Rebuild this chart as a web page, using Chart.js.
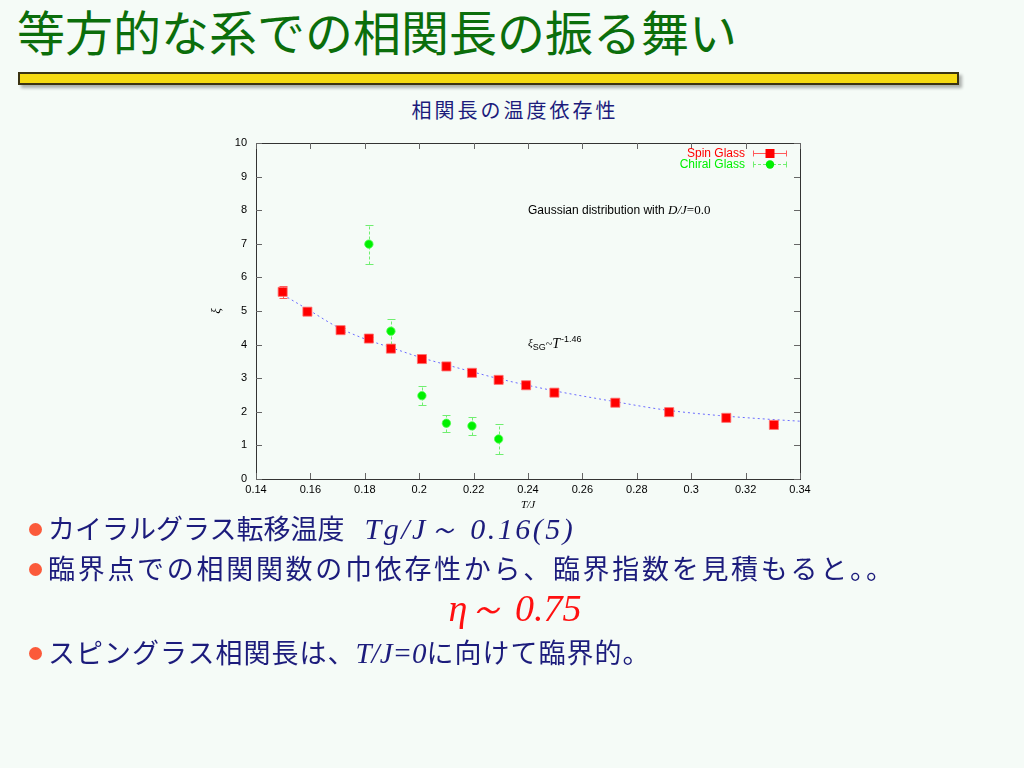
<!DOCTYPE html>
<html><head><meta charset="utf-8">
<script src="https://cdn.jsdelivr.net/npm/chart.js@4/dist/chart.umd.min.js"></script>
<style>
html,body{margin:0;padding:0;}
body{width:1024px;height:768px;background:#f5fbf7;position:relative;overflow:hidden;font-family:"Noto Sans CJK JP",sans-serif;}
#title{position:absolute;left:17px;top:2px;font-size:48px;line-height:56px;color:#0b6e0b;white-space:nowrap;}
#bar{position:absolute;left:18px;top:72px;width:937px;height:9px;background:#f6da12;border:2px solid #3b3312;box-shadow:3px 3px 3px rgba(0,0,0,0.3);}
#ctitle{position:absolute;left:315px;width:400px;text-align:center;top:96px;font-size:20px;line-height:28px;letter-spacing:3px;color:#1c1c7c;}
.b{position:absolute;left:29px;font-size:27px;color:#1c1c7c;white-space:nowrap;letter-spacing:0;line-height:34px}
.dot{display:inline-block;width:13px;height:13px;border-radius:50%;background:#fb5a3a;margin-right:6px;vertical-align:middle;position:relative;top:-2px}
.m{font-family:"Liberation Serif",serif;font-style:italic;font-size:29px;letter-spacing:0}
.m1{font-family:"Liberation Serif",serif;font-style:italic;font-size:30px;letter-spacing:2.5px;margin-left:20px}
#eta{position:absolute;left:315px;width:400px;text-align:center;top:587px;font-family:"Liberation Serif",serif;font-style:italic;font-size:38px;line-height:42px;color:#ff1010}
canvas{position:absolute;left:0;top:0}
</style>
</head>
<body>
<div id="title">等方的な系での相関長の振る舞い</div>
<div id="bar"></div>
<div id="ctitle">相関長の温度依存性</div>
<canvas id="c" width="1024" height="768"></canvas>
<div class="b" style="top:511px"><span class="dot"></span>カイラルグラス転移温度<span class="m1">Tg/J～ 0.16(5)</span></div>
<div class="b" style="top:551px;letter-spacing:2.7px"><span class="dot"></span>臨界点での相関関数の巾依存性から、臨界指数を見積もると。。</div>
<div id="eta">η～ 0.75</div>
<div class="b" style="top:635px;letter-spacing:1px"><span class="dot"></span>スピングラス相関長は、<span class="m">T/J=0</span>に向けて臨界的。</div>
<script>
const xTicks = [0.14, 0.16, 0.18, 0.20, 0.22, 0.24, 0.26, 0.28, 0.30, 0.32, 0.34];
const xTickLabels = ['0.14', '0.16', '0.18', '0.2', '0.22', '0.24', '0.26', '0.28', '0.3', '0.32', '0.34'];
const yTicks = [0, 1, 2, 3, 4, 5, 6, 7, 8, 9, 10];
const yTickLabels = ['0', '1', '2', '3', '4', '5', '6', '7', '8', '9', '10'];
const seriesNames = ['Spin Glass', 'Chiral Glass'];

const spinT   = [0.1498, 0.1589, 0.1711, 0.1815, 0.1896, 0.2010, 0.2100, 0.2194, 0.2292, 0.2393, 0.2497, 0.2721, 0.2919, 0.3129, 0.3304];
const spinXi  = [5.57, 4.98, 4.43, 4.18, 3.88, 3.57, 3.35, 3.16, 2.95, 2.79, 2.57, 2.27, 1.99, 1.82, 1.61];
const spinErr = [0.17, 0.07, 0.06, 0.06, 0.06, 0.05, 0.05, 0.05, 0.05, 0.04, 0.04, 0.04, 0.04, 0.04, 0.04];

const chiralT   = [0.1815, 0.1896, 0.2010, 0.2100, 0.2194, 0.2292];
const chiralXi  = [6.99, 4.40, 2.48, 1.66, 1.58, 1.19];
const chiralErr = [0.58, 0.37, 0.29, 0.25, 0.28, 0.45];

const fitT  = [0.15, 0.16, 0.17, 0.18, 0.19, 0.20, 0.21, 0.22, 0.23, 0.25, 0.27, 0.29, 0.31, 0.33, 0.34];
const fitXi = [5.48, 5.00, 4.52, 4.17, 3.90, 3.63, 3.40, 3.18, 2.97, 2.62, 2.33, 2.06, 1.89, 1.77, 1.72];

const noteGauss = {t: 0.24, xi: 8};
const noteFit = {t: 0.24, xi: 4};

const spinColor = '#ff0000';
const chiralColor = '#00f000';

function pts(T, V) { return T.map((t, i) => ({x: t, y: V[i]})); }

const frameAndBars = {
  id: 'frameAndBars',
  beforeDatasetsDraw(chart) {
    const {ctx, chartArea: a, scales: {x, y}} = chart;
    ctx.save();
    ctx.strokeStyle = '#333';
    ctx.lineWidth = 1;
    ctx.strokeRect(Math.round(a.left) + 0.5, Math.round(a.top) + 0.5, Math.round(a.right - a.left), Math.round(a.bottom - a.top));
    ctx.strokeStyle = '#666';
    ctx.beginPath();
    xTicks.forEach(v => {
      const px = Math.round(x.getPixelForValue(v)) + 0.5;
      ctx.moveTo(px, a.bottom); ctx.lineTo(px, a.bottom - 6);
      ctx.moveTo(px, a.top); ctx.lineTo(px, a.top + 6);
    });
    yTicks.forEach(v => {
      const py = Math.round(y.getPixelForValue(v)) + 0.5;
      ctx.moveTo(a.left, py); ctx.lineTo(a.left + 6, py);
      ctx.moveTo(a.right, py); ctx.lineTo(a.right - 6, py);
    });
    ctx.stroke();
    const draw = (T, V, E, color, dash) => {
      ctx.strokeStyle = color;
      T.forEach((t, i) => {
        const px = Math.round(x.getPixelForValue(t)) + 0.5;
        const y1 = Math.round(y.getPixelForValue(V[i] - E[i])) + 0.5;
        const y2 = Math.round(y.getPixelForValue(V[i] + E[i])) + 0.5;
        ctx.setLineDash(dash);
        ctx.beginPath(); ctx.moveTo(px, y1); ctx.lineTo(px, y2); ctx.stroke();
        ctx.setLineDash([]);
        ctx.beginPath();
        ctx.moveTo(px - 4, y1); ctx.lineTo(px + 4, y1);
        ctx.moveTo(px - 4, y2); ctx.lineTo(px + 4, y2);
        ctx.stroke();
      });
    };
    draw(spinT, spinXi, spinErr, '#ff5a5a', []);
    draw(chiralT, chiralXi, chiralErr, '#70ee70', [3, 2]);
    ctx.restore();
  },
  afterDatasetsDraw(chart) {
    const {ctx, chartArea: a, scales: {x, y}} = chart;
    ctx.save();
    ctx.textBaseline = 'middle';
    ctx.font = '12px "Liberation Sans", Arial, sans-serif';
    const rows = [
      {name: seriesNames[0], color: spinColor, bar: '#ff5a5a', dash: [], style: 'rect'},
      {name: seriesNames[1], color: chiralColor, bar: '#70ee70', dash: [3, 2], style: 'circle'}
    ];
    rows.forEach((r, i) => {
      const yy = Math.round(a.top + 10 + i * 11) + 0.5;
      ctx.fillStyle = r.color;
      ctx.textAlign = 'right';
      ctx.fillText(r.name, a.right - 55, yy);
      const x1 = a.right - 47, x2 = a.right - 13, xm = a.right - 30;
      ctx.strokeStyle = r.bar; ctx.lineWidth = 1;
      ctx.setLineDash(r.dash);
      ctx.beginPath(); ctx.moveTo(x1, yy); ctx.lineTo(x2, yy); ctx.stroke();
      ctx.setLineDash([]);
      ctx.beginPath(); ctx.moveTo(x1 + 0.5, yy - 3); ctx.lineTo(x1 + 0.5, yy + 3);
      ctx.moveTo(x2 - 0.5, yy - 3); ctx.lineTo(x2 - 0.5, yy + 3); ctx.stroke();
      ctx.fillStyle = r.color;
      ctx.beginPath();
      if (r.style === 'rect') ctx.rect(xm - 4.5, yy - 4.5, 9, 9);
      else ctx.arc(xm, yy, 4.2, 0, Math.PI * 2);
      ctx.fill();
    });
    ctx.fillStyle = '#000';
    ctx.textAlign = 'left';
    let gx = x.getPixelForValue(noteGauss.t), gy = y.getPixelForValue(noteGauss.xi);
    ctx.font = '12px "Liberation Sans", Arial, sans-serif';
    const s1 = 'Gaussian distribution with ';
    ctx.fillText(s1, gx, gy); gx += ctx.measureText(s1).width;
    ctx.font = 'italic 13px "Liberation Serif", serif';
    ctx.fillText('D/J', gx, gy); gx += ctx.measureText('D/J').width;
    ctx.font = '13px "Liberation Serif", serif';
    ctx.fillText('=0.0', gx, gy);

    let fx = x.getPixelForValue(noteFit.t), fy = y.getPixelForValue(noteFit.xi);
    ctx.font = 'italic 11px "Liberation Serif", serif';
    ctx.fillText('ξ', fx, fy - 1); fx += ctx.measureText('ξ').width;
    ctx.font = '9px "Liberation Sans", Arial, sans-serif';
    ctx.fillText('SG', fx, fy + 3); fx += ctx.measureText('SG').width;
    ctx.font = '12px "Liberation Serif", serif';
    ctx.fillText('~', fx, fy); fx += ctx.measureText('~').width;
    ctx.font = 'italic 14px "Liberation Serif", serif';
    ctx.fillText('T', fx, fy); fx += ctx.measureText('T').width + 1;
    ctx.font = '9px "Liberation Sans", Arial, sans-serif';
    ctx.fillText('-1.46', fx, fy - 5);
    ctx.restore();
  }
};

new Chart(document.getElementById('c'), {
  type: 'scatter',
  data: {
    datasets: [
      {
        label: seriesNames[0],
        data: pts(spinT, spinXi),
        pointStyle: 'rect',
        pointRadius: 6.4,
        backgroundColor: spinColor,
        borderColor: 'rgba(255,110,110,0.8)',
        borderWidth: 1
      },
      {
        label: seriesNames[1],
        data: pts(chiralT, chiralXi),
        pointStyle: 'circle',
        pointRadius: 4.2,
        backgroundColor: chiralColor,
        borderColor: 'rgba(80,255,80,0.8)',
        borderWidth: 1
      },
      {
        label: 'fit',
        data: pts(fitT, fitXi),
        showLine: true,
        cubicInterpolationMode: 'monotone',
        borderColor: '#6a6aff',
        borderWidth: 1,
        borderDash: [2, 3],
        pointRadius: 0
      }
    ]
  },
  options: {
    responsive: false,
    animation: false,
    devicePixelRatio: 1,
    layout: {padding: {left: 205, right: 224, top: 143, bottom: 252}},
    plugins: {legend: {display: false}, tooltip: {enabled: false}},
    scales: {
      x: {
        type: 'linear', min: 0.14, max: 0.34,
        afterBuildTicks: s => { s.ticks = xTicks.map(v => ({value: v})); },
        afterFit: s => { s.height = 37; },
        ticks: {
          callback: (v, i) => xTickLabels[i],
          color: '#000', padding: 4, maxRotation: 0, autoSkip: false,
          font: {family: '"Liberation Sans", Arial, sans-serif', size: 11}
        },
        grid: {display: false, drawTicks: false},
        border: {display: false},
        title: {display: true, text: 'T/J', color: '#000', padding: {top: 4, bottom: 4},
          font: {family: '"Liberation Serif", serif', style: 'italic', size: 11}}
      },
      y: {
        type: 'linear', min: 0, max: 10,
        afterBuildTicks: s => { s.ticks = yTicks.map(v => ({value: v})); },
        afterFit: s => { s.width = 51; },
        ticks: {
          callback: (v, i) => yTickLabels[i],
          color: '#000', padding: 9,
          font: {family: '"Liberation Sans", Arial, sans-serif', size: 11}
        },
        grid: {display: false, drawTicks: false},
        border: {display: false},
        title: {display: true, text: 'ξ', color: '#000', padding: {top: 4, bottom: 4},
          font: {family: '"Liberation Serif", serif', style: 'italic', size: 13}}
      }
    }
  },
  plugins: [frameAndBars]
});
</script>
</body></html>
